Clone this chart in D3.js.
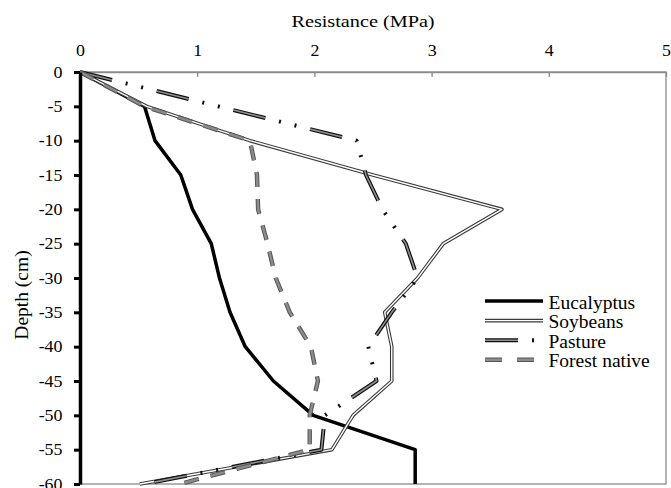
<!DOCTYPE html>
<html>
<head>
<meta charset="utf-8">
<script src="https://cdn.jsdelivr.net/npm/d3@7"></script>
<style>
  body { margin: 0; background: #fff; }
  svg { display: block; }
  text { font-family: "Liberation Serif", "Times New Roman", serif; fill: #000; }
</style>
</head>
<body>
<script>
// depth of each reading (cm) and penetration resistance per land use (MPa)
const depths = [0, -5, -10, -15, -20, -25, -30, -35, -40, -45, -50, -55, -60];
const eucalyptus = [0, 0.55, 0.64, 0.86, 0.96, 1.12, 1.19, 1.28, 1.41, 1.65, 1.99, 2.86, 2.86];
const soybeans = [0, 0.57, 1.45, 2.5, 3.6, 3.1, 2.88, 2.6, 2.66, 2.66, 2.33, 2.15, 0.51];
const pasture = [0, 1.18, 2.36, 2.44, 2.58, 2.78, 2.88, 2.66, 2.46, 2.53, 2.09, 2.06, 0.55];
const forestNative = [0, 0.55, 1.45, 1.51, 1.52, 1.6, 1.67, 1.79, 1.97, 2.03, 1.96, 1.96, 0.85];

const seriesNames = ["Eucalyptus", "Soybeans", "Pasture", "Forest native"];
const xTicks = [0, 1, 2, 3, 4, 5];
const yTicks = [0, -5, -10, -15, -20, -25, -30, -35, -40, -45, -50, -55, -60];

const WIDTH = 671, HEIGHT = 488;
const PLOT = { LEFT: 80, RIGHT: 666, TOP: 72, BOTTOM: 484 };
const STRETCH = 1.12; // tick labels look a bit wide in the original

// each series is drawn as stacked strokes (outline + core)
const styles = [
	[{ stroke: "#000", width: 3.5 }],
	[{ stroke: "#3a3a3a", width: 3.6 }, { stroke: "#fff", width: 1.4 }],
	[{ stroke: "#111", width: 4, dash: "33,14,2,14,2,14" }, { stroke: "#8f8f8f", width: 1.6, dash: "33,46" }],
	[{ stroke: "#555", width: 4.4, dash: "15,12", legendDash: "17,15" },
	 { stroke: "#8c8c8c", width: 2.4, dash: "15,12", legendDash: "17,15" }]
];

const svg = d3.select("body").append("svg").attr("width", WIDTH).attr("height", HEIGHT);

const xScale = d3.scaleLinear().domain([0, 5]).range([PLOT.LEFT, PLOT.RIGHT]);
const yScale = d3.scaleLinear().domain([0, -60]).range([PLOT.TOP, PLOT.BOTTOM]);
const plain = function (d) { return String(d); };

// plot frame (right and bottom edges show)
svg.append("rect")
	.attr("x", PLOT.LEFT).attr("y", PLOT.TOP)
	.attr("width", PLOT.RIGHT - PLOT.LEFT).attr("height", PLOT.BOTTOM - PLOT.TOP)
	.attr("fill", "none").attr("stroke", "#8a8a8a").attr("stroke-width", 1.3);

// x axis on top, ticks pointing into the plot
const xAxis = svg.append("g")
	.attr("transform", "translate(0," + PLOT.TOP + ")")
	.call(d3.axisTop(xScale).tickValues(xTicks).tickFormat(plain)
		.tickSizeInner(-5).tickSizeOuter(0).tickPadding(16.5));
xAxis.select(".domain").attr("stroke", "#8a8a8a").attr("stroke-width", 1.3);
xAxis.selectAll(".tick line").attr("stroke", "#8a8a8a").attr("stroke-width", 1.3);
xAxis.selectAll(".tick text")
	.attr("font-size", 16)
	.attr("transform", "scale(" + STRETCH + ",1)");

svg.append("text")
	.attr("transform", "translate(363,26.7) scale(1.19,1)")
	.attr("text-anchor", "middle")
	.attr("font-size", 17)
	.text("Resistance (MPa)");

// lines
const line = d3.line()
	.x(function (d) { return xScale(d.value); })
	.y(function (d) { return yScale(d.depth); })
	.curve(d3.curveLinear);

[eucalyptus, soybeans, pasture, forestNative].forEach(function (values, i) {
	const points = values.map(function (v, j) { return { value: v, depth: depths[j] }; });
	styles[i].forEach(function (s) {
		svg.append("path")
			.datum(points)
			.attr("d", line)
			.attr("fill", "none")
			.attr("stroke", s.stroke)
			.attr("stroke-width", s.width)
			.attr("stroke-linejoin", "round")
			.attr("stroke-dasharray", s.dash || null);
	});
});

// y axis: heavy black line with ticks outside
const yAxis = svg.append("g")
	.attr("transform", "translate(" + PLOT.LEFT + ",0)")
	.call(d3.axisLeft(yScale).tickValues(yTicks).tickFormat(plain)
		.tickSizeInner(6).tickSizeOuter(0).tickPadding(11.5));
yAxis.select(".domain").attr("stroke", "#000").attr("stroke-width", 3.5);
yAxis.selectAll(".tick line").attr("stroke", "#000").attr("stroke-width", 3);
yAxis.selectAll(".tick text")
	.attr("font-size", 16)
	.attr("x", -17.5 / STRETCH)
	.attr("transform", "scale(" + STRETCH + ",1)");

svg.append("text")
	.attr("transform", "translate(27.5,295) rotate(-90)")
	.attr("text-anchor", "middle")
	.attr("font-size", 19.5)
	.text("Depth (cm)");

// legend
const legend = svg.append("g").attr("transform", "translate(485,301)");
seriesNames.forEach(function (name, i) {
	const row = legend.append("g").attr("transform", "translate(0," + (i * 19.6) + ")");
	styles[i].forEach(function (s) {
		row.append("line")
			.attr("x1", 0).attr("x2", 58)
			.attr("stroke", s.stroke)
			.attr("stroke-width", s.width)
			.attr("stroke-dasharray", s.legendDash || s.dash || null);
	});
	row.append("text")
		.attr("x", 63.5).attr("y", 7.5)
		.attr("font-size", 19.5)
		.text(name);
});
</script>
</body>
</html>
